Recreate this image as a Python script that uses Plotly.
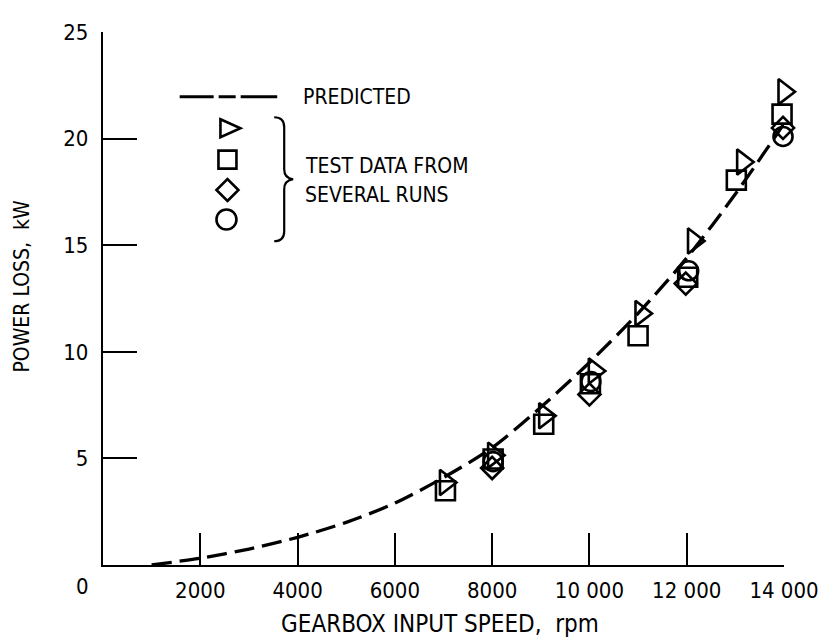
import plotly.graph_objects as go

# ---- data ----
pred_speed = [1000, 2000, 3000, 4000, 5000, 6000, 7000, 8000, 9000, 10000, 11000, 12000, 13000, 14000]
pred_loss = [0.0, 0.32, 0.75, 1.3, 2.0, 2.9, 4.1, 5.5, 7.4, 9.5, 11.8, 14.4, 17.4, 20.7]

tri_speed = [7040, 8030, 9080, 10100, 11060, 12140, 13150, 14000]
tri_loss = [3.87, 5.15, 7.0, 9.1, 11.8, 15.2, 18.9, 22.2]

sq_speed = [7040, 8020, 9060, 10020, 11000, 12020, 13020, 13960]
sq_loss = [3.48, 4.97, 6.6, 8.5, 10.75, 13.5, 18.05, 21.15]

dia_speed = [8000, 10000, 11980, 13980]
dia_loss = [4.55, 8.0, 13.2, 20.5]

circ_speed = [8020, 10030, 12040, 13980]
circ_loss = [4.85, 8.6, 13.8, 20.1]

x_ticks = [2000, 4000, 6000, 8000, 10000, 12000, 14000]
x_tick_text = ["2000", "4000", "6000", "8000", "10 000", "12 000", "14 000"]
y_ticks = [5, 10, 15, 20, 25]
y_tick_text = ["5", "10", "15", "20", "25"]

FONT = "Liberation Sans Narrow, DejaVu Sans Condensed, Arial Narrow, sans-serif"
FS = 22
OFF = 8  # page body margin in the browser
W, H = 831 - OFF, 643 - OFF
# plot area in page pixels: x 103..787, y 22..565
PX0, PX1, PY0, PY1 = 103, 787, 22, 565
L, T = PX0 - OFF, PY0 - OFF
R, B = 831 - PX1, 643 - PY1
PW, PH = PX1 - PX0, PY1 - PY0


def px(x):
    return (x - PX0) / PW


def py(y):
    return (PY1 - y) / PH


fig = go.Figure()

fig.add_trace(go.Scatter(
    x=pred_speed, y=pred_loss, mode="lines",
    line=dict(color="black", width=3.3, dash="20px,8px", shape="spline", smoothing=0.8),
    showlegend=False, hoverinfo="skip", cliponaxis=False))

mk_line = dict(color="black", width=2.6)
for xs, ys, sym, sz in [
    (sq_speed, sq_loss, "square-open", 19),
    (dia_speed, dia_loss, "diamond-open", 17),
    (circ_speed, circ_loss, "circle-open", 19),
    (tri_speed, tri_loss, "triangle-right-open", 22),
]:
    fig.add_trace(go.Scatter(
        x=xs, y=ys, mode="markers",
        marker=dict(symbol=sym, size=sz, color="black", line=mk_line),
        showlegend=False, cliponaxis=False))

shapes = []
# legend dashed line
shapes.append(dict(type="line", xref="paper", yref="paper",
                   x0=px(180), x1=px(278), y0=py(88), y1=py(88),
                   line=dict(color="black", width=3, dash="34px,5px,17px,5px,40px")))


def glyph(cx, cy, path):
    return dict(type="path", xref="paper", yref="paper",
                xsizemode="pixel", ysizemode="pixel",
                xanchor=px(cx), yanchor=py(cy), path=path,
                line=dict(color="black", width=2.6), fillcolor="rgba(0,0,0,0)")


shapes.append(glyph(230, 120, "M -9,9 L 11,0 L -9,-9 Z"))
shapes.append(glyph(228, 152, "M -9,-9 L 9,-9 L 9,9 L -9,9 Z"))
shapes.append(glyph(228, 183, "M 0,-11 L 11,0 L 0,11 L -11,0 Z"))
shapes.append(dict(type="circle", xref="paper", yref="paper",
                   xsizemode="pixel", ysizemode="pixel",
                   xanchor=px(227), yanchor=py(213), x0=-10, x1=10, y0=-10, y1=10,
                   line=dict(color="black", width=2.6)))
# brace
shapes.append(dict(type="path", xref="paper", yref="paper",
                   xsizemode="pixel", ysizemode="pixel",
                   xanchor=px(285), yanchor=py(172),
                   path="M -10,62 Q 0,62 0,52 L 0,10 Q 0,1 9,0 Q 0,-1 0,-10 L 0,-52 Q 0,-62 -10,-62",
                   line=dict(color="black", width=2.2)))

annotations = [
    dict(text="PREDICTED", x=px(302), y=py(88), xanchor="left", yanchor="middle", size=21),
    dict(text="TEST DATA FROM", x=px(304), y=py(159), xanchor="left", yanchor="middle", size=21),
    dict(text="SEVERAL RUNS", x=px(304), y=py(188), xanchor="left", yanchor="middle", size=21),
    dict(text="0", x=px(82), y=py(587), xanchor="center", yanchor="middle", size=FS),
    dict(text="GEARBOX INPUT SPEED,\u00a0 rpm", x=px(441), y=py(625), xanchor="center", yanchor="middle", size=24),
    dict(text="POWER LOSS,\u00a0 kW", x=px(22), y=py(281), xanchor="center", yanchor="middle",
         textangle=-90, size=21),
]
for a in annotations:
    s = a.pop("size")
    a.update(xref="paper", yref="paper", showarrow=False, font=dict(family=FONT, size=s, color="black"))

fig.update_layout(
    width=W, height=H, autosize=False,
    margin=dict(l=L, r=R, t=T, b=B, pad=0),
    paper_bgcolor="white", plot_bgcolor="white",
    font=dict(family=FONT, size=FS, color="black"),
    shapes=shapes, annotations=annotations, showlegend=False,
    xaxis=dict(range=[0, 14000], tickvals=x_ticks, ticktext=x_tick_text,
               ticks="inside", ticklen=32, tickwidth=2.4, tickcolor="black",
               showline=True, linecolor="black", linewidth=2.4, showgrid=False, zeroline=False,
               ticklabelstandoff=4, fixedrange=True),
    yaxis=dict(range=[0, 25], tickvals=y_ticks, ticktext=y_tick_text,
               ticks="inside", ticklen=34, tickwidth=2.4, tickcolor="black",
               showline=True, linecolor="black", linewidth=2.4, showgrid=False, zeroline=False,
               ticklabelstandoff=8, fixedrange=True),
)

fig.write_html("out.html")
